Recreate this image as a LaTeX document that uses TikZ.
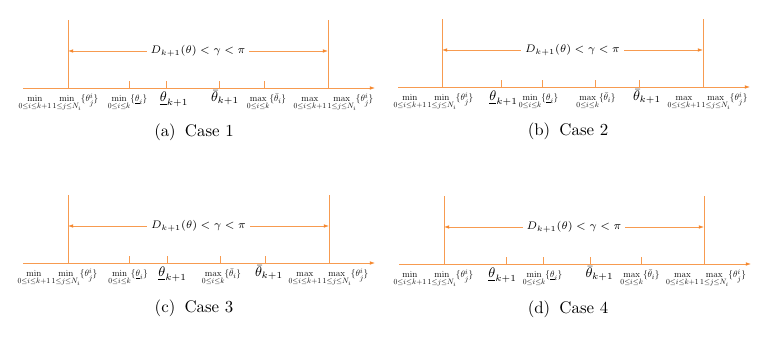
\documentclass[tikz,border=0pt]{standalone}
\usepackage{fix-cm}
\usepackage{amsmath,amssymb}
\usetikzlibrary{arrows.meta,positioning,calc}
\definecolor{lineOrange}{RGB}{247,155,80}
\definecolor{tipOrange}{RGB}{245,135,45}
\DeclareMathSizes{12}{12}{10}{8}

\tikzset{
  axisline/.style={draw=lineOrange, line width=0.5pt},
  axisarrow/.style={axisline, -{Latex[length=3.4pt,width=2.4pt,color=tipOrange]}},
  gaparrow/.style={axisline, {Latex[length=3.4pt,width=2.4pt,color=tipOrange]}-{Latex[length=3.4pt,width=2.4pt,color=tipOrange]}},
  boundlab/.style={font=\fontsize{12}{14}\selectfont, inner sep=0pt, anchor=base},
  pointlab/.style={font=\fontsize{9}{11}\selectfont, inner sep=0pt, anchor=base},
  gaplab/.style={font=\fontsize{7.1}{8.5}\selectfont, fill=white, inner sep=2.5pt},
  caselab/.style={font=\fontsize{10.95}{13}\selectfont, inner sep=0pt, anchor=base},
}
\newcommand{\labshrink}[1]{\scalebox{0.5}{#1}}
\newcommand{\minmin}{\labshrink{$\min\limits_{0\le i\le k+1}\min\limits_{1\le j\le N_i}\{\theta_j^i\}$}}
\newcommand{\maxmax}{\labshrink{$\max\limits_{0\le i\le k+1}\max\limits_{1\le j\le N_i}\{\theta_j^i\}$}}
\newcommand{\minlow}{\labshrink{$\min\limits_{0\le i\le k}\{\underline{\theta}_i\}$}}
\newcommand{\maxup}{\labshrink{$\max\limits_{0\le i\le k}\{\bar{\theta}_i\}$}}
\newcommand{\lownext}{$\underline{\theta}_{k+1}$}
\newcommand{\upnext}{$\bar{\theta}_{k+1}$}
\newcommand{\gaptext}{$D_{k+1}(\theta)<\gamma<\pi$}

\begin{document}
\begin{tikzpicture}[x=0.65pt,y=-0.65pt]
\useasboundingbox (0,0) rectangle (782,348);

% (a) Case 1
\begin{scope}
  \coordinate (a-o) at (23,88);
  \coordinate (a-e) at (375,88);
  \coordinate (a-lo) at (68,88);
  \coordinate (a-lt) at (68,20);
  \coordinate (a-ro) at (328,88);
  \coordinate (a-rt) at (328,20);
  \coordinate (a-la) at (68,51);
  \coordinate (a-ra) at (328,51);
  \draw[axisarrow] (a-o) -- (a-e);
  \draw[axisline] (a-lo) -- (a-lt);
  \draw[axisline] (a-ro) -- (a-rt);
  \draw[gaparrow] (a-la) -- node[gaplab] (a-gap) {\gaptext} (a-ra);
  \foreach \t [count=\n] in {129,166,219,264}
    \draw[axisline] (\t,88) coordinate (a-t\n) -- ++(0,-7);
  \node[boundlab] (a-minmin) at (58.5,102) {\minmin};
  \node[boundlab] (a-minlow) at (127.5,102) {\minlow};
  \node[pointlab] (a-lownext) at (174,102) {\lownext};
  \node[pointlab] (a-upnext) at (225,102) {\upnext};
  \node[boundlab] (a-maxup) at (266.5,102) {\maxup};
  \node[boundlab] (a-maxmax) at (333.5,102) {\maxmax};
  \node[caselab] (a-cap) at (194,137) {(a)\hspace{6pt}Case 1};
\end{scope}

% (b) Case 2
\begin{scope}[shift={(375,-1)}]
  \coordinate (b-o) at (23,88);
  \coordinate (b-e) at (375,88);
  \coordinate (b-lo) at (67,88);
  \coordinate (b-lt) at (67,20);
  \coordinate (b-ro) at (328,88);
  \coordinate (b-rt) at (328,20);
  \coordinate (b-la) at (67,51);
  \coordinate (b-ra) at (328,51);
  \draw[axisarrow] (b-o) -- (b-e);
  \draw[axisline] (b-lo) -- (b-lt);
  \draw[axisline] (b-ro) -- (b-rt);
  \draw[gaparrow] (b-la) -- node[gaplab] (b-gap) {\gaptext} (b-ra);
  \foreach \t [count=\n] in {126,167,220,264}
    \draw[axisline] (\t,88) coordinate (b-t\n) -- ++(0,-7);
  \node[boundlab] (b-minmin) at (58.5,102) {\minmin};
  \node[pointlab] (b-lownext) at (128.5,102) {\lownext};
  \node[boundlab] (b-minlow) at (163.5,102) {\minlow};
  \node[boundlab] (b-maxup) at (221,102) {\maxup};
  \node[pointlab] (b-upnext) at (272,102) {\upnext};
  \node[boundlab] (b-maxmax) at (332.5,102) {\maxmax};
  \node[caselab] (b-cap) at (193,137) {(b)\hspace{6pt}Case 2};
\end{scope}

% (c) Case 3
\begin{scope}[shift={(0,175)}]
  \coordinate (c-o) at (23,88);
  \coordinate (c-e) at (375,88);
  \coordinate (c-lo) at (68,88);
  \coordinate (c-lt) at (68,20);
  \coordinate (c-ro) at (329,88);
  \coordinate (c-rt) at (329,20);
  \coordinate (c-la) at (68,51);
  \coordinate (c-ra) at (329,51);
  \draw[axisarrow] (c-o) -- (c-e);
  \draw[axisline] (c-lo) -- (c-lt);
  \draw[axisline] (c-ro) -- (c-rt);
  \draw[gaparrow] (c-la) -- node[gaplab] (c-gap) {\gaptext} (c-ra);
  \foreach \t [count=\n] in {129,167,220,265}
    \draw[axisline] (\t,88) coordinate (c-t\n) -- ++(0,-7);
  \node[boundlab] (c-minmin) at (57.5,102) {\minmin};
  \node[boundlab] (c-minlow) at (128,102) {\minlow};
  \node[pointlab] (c-lownext) at (172.5,102) {\lownext};
  \node[boundlab] (c-maxup) at (221.5,102) {\maxup};
  \node[pointlab] (c-upnext) at (269,102) {\upnext};
  \node[boundlab] (c-maxmax) at (328.5,102) {\maxmax};
  \node[caselab] (c-cap) at (194,138) {(c)\hspace{6pt}Case 3};
\end{scope}

% (d) Case 4
\begin{scope}[shift={(376,176)}]
  \coordinate (d-o) at (23,88);
  \coordinate (d-e) at (375,88);
  \coordinate (d-lo) at (68,88);
  \coordinate (d-lt) at (68,20);
  \coordinate (d-ro) at (328,88);
  \coordinate (d-rt) at (328,20);
  \coordinate (d-la) at (68,51);
  \coordinate (d-ra) at (328,51);
  \draw[axisarrow] (d-o) -- (d-e);
  \draw[axisline] (d-lo) -- (d-lt);
  \draw[axisline] (d-ro) -- (d-rt);
  \draw[gaparrow] (d-la) -- node[gaplab] (d-gap) {\gaptext} (d-ra);
  \foreach \t [count=\n] in {130,167,214,265}
    \draw[axisline] (\t,88) coordinate (d-t\n) -- ++(0,-7);
  \node[boundlab] (d-minmin) at (57.5,102) {\minmin};
  \node[pointlab] (d-lownext) at (126.5,102) {\lownext};
  \node[boundlab] (d-minlow) at (166.5,102) {\minlow};
  \node[pointlab] (d-upnext) at (223.5,102) {\upnext};
  \node[boundlab] (d-maxup) at (264,102) {\maxup};
  \node[boundlab] (d-maxmax) at (330,102) {\maxmax};
  \node[caselab] (d-cap) at (192,138) {(d)\hspace{6pt}Case 4};
\end{scope}
\end{tikzpicture}
\end{document}
